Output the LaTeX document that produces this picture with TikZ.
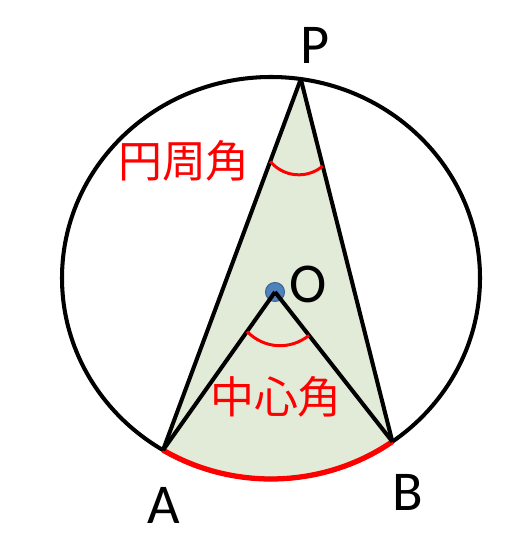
\documentclass[tikz,border=0pt]{standalone}
\usepackage{fontspec}
\setmainfont{Carlito}
\newfontfamily\jpfont{Noto Sans CJK JP}
\usetikzlibrary{calc}

\definecolor{sectorgreen}{RGB}{226,235,215}
\definecolor{dotblue}{RGB}{79,129,189}
\definecolor{dotedge}{RGB}{60,100,150}

\begin{document}
\begin{tikzpicture}[x=0.02cm,y=0.02cm,
    every node/.style={inner sep=0pt,font=\fontsize{32}{36}\selectfont},
    jplabel/.style={text=red,font=\jpfont\fontsize{25}{29}\selectfont},
    edgeline/.style={black,line width=2.3pt},
    anglemark/.style={red,line width=1.7pt}]
        \useasboundingbox (0,0) rectangle (508,547);

        \coordinate (C) at (271,269);
        \coordinate (P) at ($(C)+(81.8:209 and 201)$);
        \coordinate (A) at ($(C)+(238.9:209 and 201)$);
        \coordinate (B) at ($(C)+(305.5:209 and 201)$);
        \coordinate (O) at (275,255);

        \fill[sectorgreen] (P) -- (A) arc[start angle=238.9,end angle=305.5,x radius=209,y radius=201] -- cycle;
        \draw[edgeline] (C) ellipse[x radius=209,y radius=201];
        \draw[red,line width=3pt] (A) arc[start angle=238.9,end angle=305.5,x radius=209,y radius=201];

        \fill[dotblue,draw=dotedge,line width=0.6pt] (O) circle (9.5);

        \path [edgeline] (P) edge (A);
        \path [edgeline] (P) edge (B);
        \path [edgeline] (O) edge (A);
        \path [edgeline] (O) edge (B);

        \draw[anglemark] ($(P)!0.222!(A)$) to[bend right=45] ($(P)!0.24!(B)$);
        \draw[anglemark] ($(O)!0.25!(A)$) to[bend right=42] ($(O)!0.29!(B)$);

        \node (labelP) at (315,502) {P};
        \node (labelO) at (308,263) {O};
        \node (labelA) at (164,42) {A};
        \node (labelB) at (408,55) {B};
        \node[jplabel] (inscribed) at (184,386) {円周角};
        \node[jplabel] (central) at (276,150) {中心角};
    \end{tikzpicture}
\end{document}
